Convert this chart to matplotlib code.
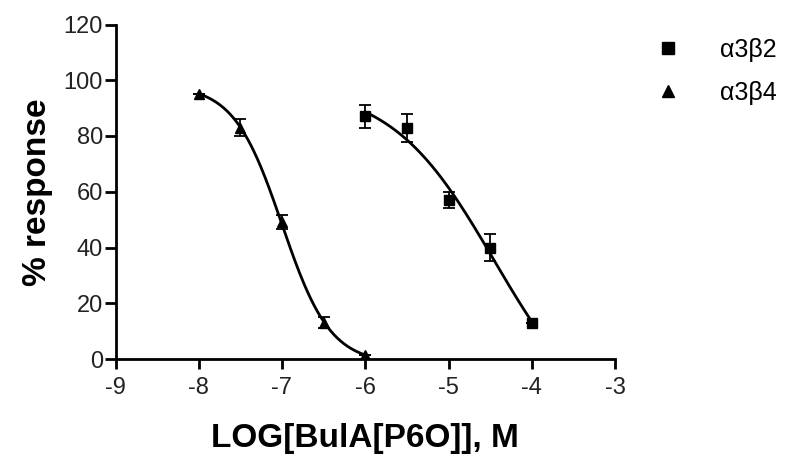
import numpy as np
import matplotlib
matplotlib.use("Agg")
import matplotlib.pyplot as plt
from matplotlib.lines import Line2D

plt.rcParams['font.family'] = ['Liberation Sans', 'DejaVu Sans']
plt.rcParams['axes.unicode_minus'] = False

# data
log_b2 = [-6.0, -5.5, -5.0, -4.5, -4.0]
resp_b2 = [87, 83, 57, 40, 13]
err_b2 = [4, 5, 3, 5, 0]

log_b4 = [-8.0, -7.5, -7.0, -6.5, -6.0]
resp_b4 = [95, 83, 49, 13, 1.5]
err_b4 = [0, 3, 2.5, 2, 0]

xticks = [-9, -8, -7, -6, -5, -4, -3]
yticks = [0, 20, 40, 60, 80, 100, 120]


def fit4pl(x, y):
    # four parameter logistic, grid over logIC50 / slope, top & bottom by least squares
    x = np.asarray(x)
    y = np.asarray(y, float)
    best = None
    for c in np.linspace(-9, -2, 141):
        for n in np.linspace(0.3, 3, 55):
            s = 1 / (1 + 10 ** (n * (x - c)))
            A = np.column_stack([s, 1 - s])
            coef = np.linalg.lstsq(A, y, rcond=None)[0]
            r = np.sum((A @ coef - y) ** 2)
            if best is None or r < best[0]:
                best = (r, c, n, coef[0], coef[1])
    _, c, n, top, bot = best
    xs = np.linspace(x.min(), x.max(), 200)
    return xs, bot + (top - bot) / (1 + 10 ** (n * (xs - c)))


fig = plt.figure(figsize=(7.85, 4.63), dpi=100)
ax = fig.add_axes([115.5 / 785, 1 - 359 / 463, (615 - 115.5) / 785, (359 - 24.5) / 463])

handles = []
for lx, ry, er, mk, lab in [(log_b2, resp_b2, err_b2, 's', 'α3β2'),
                            (log_b4, resp_b4, err_b4, '^', 'α3β4')]:
    xs, ys = fit4pl(lx, ry)
    ax.plot(xs, ys, color='black', lw=2)
    ax.errorbar(lx, ry, yerr=er, fmt=mk, color='black', ms=7.5,
                capsize=4, elinewidth=1.3, capthick=1.3)
    handles.append(Line2D([], [], ls='none', marker=mk, color='black', ms=8, label=lab))

ax.set_xlim(-9, -3)
ax.set_ylim(0, 120)
ax.set_xticks(xticks)
ax.set_yticks(yticks)
ax.spines['top'].set_visible(False)
ax.spines['right'].set_visible(False)
for s in ['left', 'bottom']:
    ax.spines[s].set_linewidth(2)
    ax.spines[s].set_capstyle('projecting')
ax.tick_params(width=2, labelsize=17, colors='black', labelcolor='#222222')
ax.tick_params(axis='x', length=7, pad=6)
ax.tick_params(axis='y', length=8, pad=1)
ax.set_xlabel('LOG[BulA[P6O]], M', fontsize=24, fontweight='bold', labelpad=17)
ax.set_ylabel('% response', fontsize=24, fontweight='bold', labelpad=8)

fig.legend(handles=handles, loc='upper left',
           bbox_to_anchor=(655 / 785, 1 - 38 / 463), frameon=False,
           fontsize=18, handletextpad=1.6, labelspacing=0.75,
           handlelength=1.0, borderaxespad=0, borderpad=0)

fig.savefig('out.png', dpi=100)
